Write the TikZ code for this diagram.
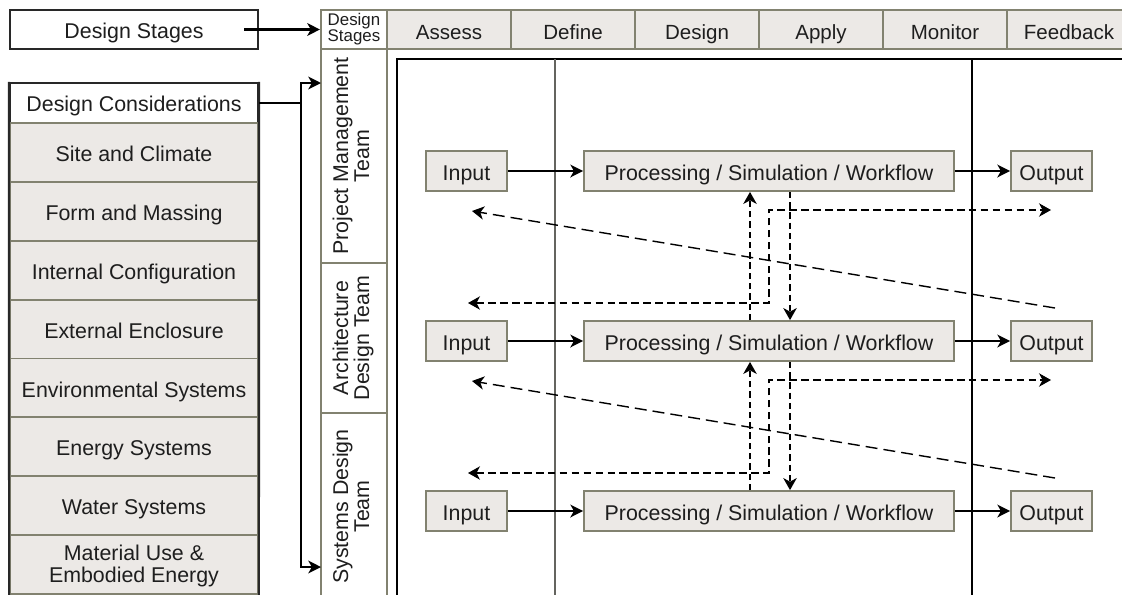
\documentclass[tikz,border=0pt]{standalone}
\usepackage{fontspec}
\setmainfont{Liberation Sans}
\usetikzlibrary{arrows.meta,calc}
\definecolor{boxgray}{RGB}{236,233,230}
\definecolor{olivegray}{RGB}{130,130,112}
\definecolor{txt}{RGB}{30,30,30}
\definecolor{darkline}{RGB}{40,40,40}
\definecolor{midgray}{RGB}{100,100,95}
\tikzset{
  wh/.style 2 args={minimum width=#1*0.025cm, minimum height=#2*0.025cm},
  basefont/.style={text=txt, font=\fontsize{15.2}{16.4}\selectfont, inner sep=0pt},
  oneline/.style={text height=13pt, text depth=0pt},
  wbox/.style={basefont, draw=darkline, line width=1.5pt, fill=white},
  gbox/.style={basefont, draw=olivegray, line width=1.3pt, fill=boxgray},
  hcell/.style={basefont, oneline, font=\fontsize{14.6}{16}\selectfont, text height=14pt, draw=olivegray, line width=1.5pt, fill=boxgray},
  tcell/.style={basefont, draw=olivegray, line width=1.5pt, fill=white},
  pbox/.style={basefont, oneline, draw=olivegray, line width=1.3pt, fill=boxgray},
  arr/.style={draw=black, line width=1.6pt, -{Stealth[length=9pt,width=9pt,inset=2.5pt]}},
  thickdash/.style={draw=black, line width=1.4pt, dash pattern=on 4.5pt off 2.8pt, -{Stealth[length=8.5pt,width=9.5pt,inset=2.5pt]}},
  thindash/.style={draw=black, line width=0.9pt, dash pattern=on 5.5pt off 3pt, {Stealth[length=8.5pt,width=9.5pt,inset=2.5pt]}-{Stealth[length=8.5pt,width=9.5pt,inset=2.5pt]}},
  longdash/.style={draw=black, line width=1pt, dash pattern=on 8.5pt off 4.3pt, -{Stealth[length=8.5pt,width=9.5pt,inset=2.5pt]}},
}
\begin{document}
\begin{tikzpicture}[x=0.025cm,y=-0.025cm]
\fill[white] (0,0) rectangle (1122,594);
\useasboundingbox (0,0) rectangle (1122,594);

% left column
\node[wbox, oneline, wh={248}{39}] (dsbox) at (134,29.5) {Design Stages};
\node[wbox, oneline, text height=12pt, wh={248}{40}] (dcons) at (134,103) {Design Considerations};
\foreach \t [count=\k from 0] in {Site and Climate, Form and Massing, Internal Configuration, External Enclosure, Environmental Systems, Energy Systems, Water Systems}{
  \node[gbox, oneline, wh={248}{58.875}] (dc\k) at (134,{123+58.875*(\k+0.5)}) {\t};
}
\node[gbox, text height=10pt, text depth=16.4pt, wh={248}{58.875}] (dc7) at (134,{123+58.875*7.5}) {\begin{tabular}[t]{@{}c@{}}Material Use \&\\[-0.5pt]Embodied Energy\end{tabular}};
\draw[darkline, line width=1.5pt] (dcons.north west) -- (dc7.south west);
\draw[darkline, line width=1.5pt] (dcons.north east) -- (dc7.south east);

% header row
\node[tcell, align=center, wh={66}{39}, font=\fontsize{12}{11.5}\selectfont] (h0) at (354,29.5) {Design\\Stages};
\foreach \t [count=\k from 1] in {Assess, Define, Design, Apply, Monitor, Feedback}{
  \node[hcell, wh={124}{39}] (h\k) at ({387+124*(\k-0.5)},29.5) {\t};
}

% team column
\node[tcell, wh={66}{214}] (pm) at (354,156) {\rotatebox{90}{\begin{tabular}{@{}c@{}}Project Management\\[-1.5pt]Team\end{tabular}}};
\node[tcell, wh={66}{150}] (arch) at (354,338) {\rotatebox{90}{\begin{tabular}{@{}c@{}}Architecture\\[-1.5pt]Design Team\end{tabular}}};
\node[tcell, wh={66}{187}] (sys) at (354,506.5) {\rotatebox{90}{\begin{tabular}{@{}c@{}}Systems Design\\[-1.5pt]Team\end{tabular}}};

% main frame
\draw[black, line width=1.6pt] (397,600) -- (397,59) -- (1130,59);
\draw[midgray, line width=1pt] (555,59) -- (555,600);
\draw[black, line width=0.9pt] (972,59) -- (972,600);

% left connectors
\coordinate (pmIn) at (321,83);
\coordinate (sysIn) at (321,567);
\draw[arr] ([xshift=-15*0.025cm]dsbox.east) -- (h0.west);
\draw[arr] (dcons.east) -- ++(42,0) |- (pmIn);
\draw[arr] (dcons.east) -- ++(42,0) |- (sysIn);

% rows
\foreach \i in {0,1,2}{
  \node[pbox, wh={81}{40}] (in\i) at (466.5,{171+170*\i}) {Input};
  \node[pbox, wh={370}{40}] (pr\i) at (769,{171+170*\i}) {Processing / Simulation / Workflow};
  \node[pbox, wh={81}{40}] (out\i) at (1051.5,{171+170*\i}) {Output};
  \draw[arr] (in\i) -- (pr\i);
  \draw[arr] (pr\i) -- (out\i);
}

% inter-row links
\foreach \i/\j in {0/1,1/2}{
  \draw[thickdash] ($(pr\j.north)+(-19,0)$) -- ($(pr\i.south)+(-19,0)$);
  \draw[thickdash] ($(pr\i.south)+(21,0)$) -- ($(pr\j.north)+(21,0)$);
  \coordinate (fbL\i) at (468,{303+170*\i});
  \coordinate (fbR\i) at (1051,{210+170*\i});
  \draw[thindash] (fbL\i) -- ++(301,0) |- (fbR\i);
  \coordinate (ldR\i) at (1055,{308+170*\i});
  \coordinate (ldL\i) at (472,{211+170*\i});
  \draw[longdash] (ldR\i) -- (ldL\i);
}
\end{tikzpicture}
\end{document}
